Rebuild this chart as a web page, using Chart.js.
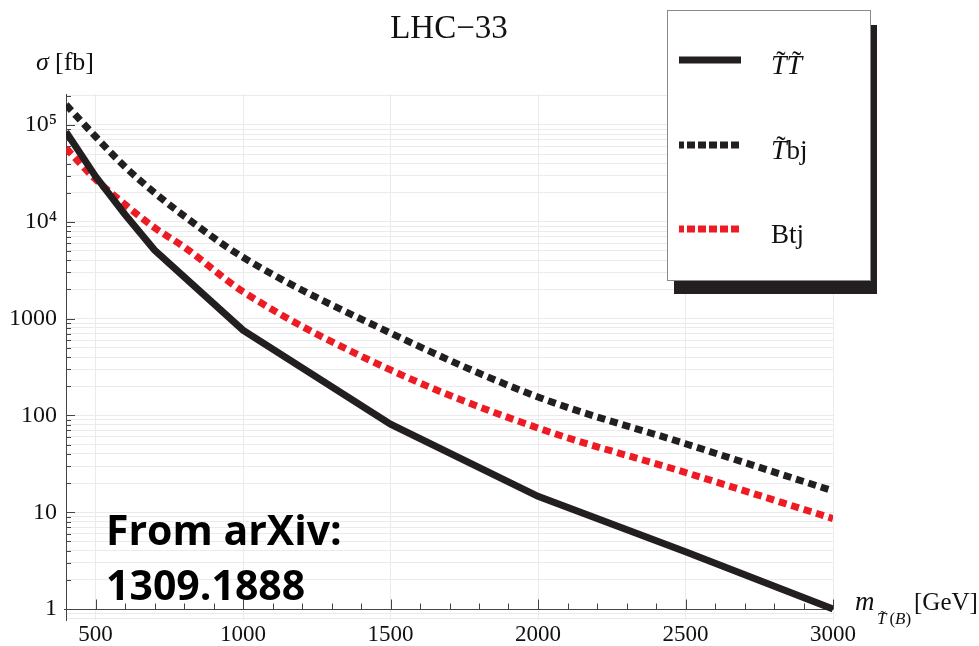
<!DOCTYPE html>
<html>
<head>
<meta charset="utf-8">
<script src="https://cdn.jsdelivr.net/npm/chart.js@4.4.0/dist/chart.umd.min.js"></script>
<style>
  html, body { margin: 0; padding: 0; background: #fff; }
  #wrap { width: 979px; height: 646px; }
</style>
</head>
<body>
<div id="wrap"><canvas id="xsecChart" width="979" height="646"></canvas></div>
<script>
// masses in GeV, cross sections in fb
const masses = [400, 500, 600, 700, 800, 1000, 1500, 2000, 2500, 3000];
const sigmaTT  = [85000, 29500, 11900, 5100, null, 760, 81, 14.6, 3.9, 1.0];
const sigmaTbj = [162000, 76000, 37000, 20000, 11500, 4300, 710, 155, 51, 16.6];
const sigmaBtj = [57500, 27500, 15100, 8700, 5500, 1900, 295, 74, 25.7, 8.6];

const xTicks = [500, 1000, 1500, 2000, 2500, 3000];
const yMajor = [1, 10, 100, 1000, 10000, 100000];
const yTickText = ['1', '10', '100', '1000', '10⁴', '10⁵'];

const serif = 'Liberation Serif';
const serifCss = '"Liberation Serif", serif';
const black = '#231f20';
const red = '#ed1c24';

function pts(arr) {
  return masses.map((m, i) => ({ x: m, y: arr[i] }));
}

function logTicks(min, max) {
  const out = [];
  for (let e = -1; e <= 5; e++) {
    for (let k = 1; k <= 9; k++) {
      const v = k * Math.pow(10, e);
      if (v >= min && v <= max) out.push({ value: v });
    }
  }
  return out;
}

// italic T with a tilde on top, returns advance
function tildeT(ctx, x, base, size) {
  ctx.font = 'italic ' + size + 'px ' + serifCss;
  ctx.fillText('T', x, base);
  const w = ctx.measureText('T').width;
  ctx.font = size + 'px ' + serifCss;
  ctx.textAlign = 'center';
  ctx.fillText('\u02dc', x + w * 0.64, base - size * 0.14);
  ctx.textAlign = 'left';
  return w;
}

// legend entries: label parts ('~T' = T with tilde)
const legendItems = [
  { parts: ['~T', '~T'], color: black, dash: [] },
  { parts: ['~T', 'bj'], color: black, dash: [8, 3] },
  { parts: ['Btj'], color: red, dash: [8, 3] }
];

const decor = {
  id: 'decor',
  beforeDatasetsDraw(chart) {
    const { ctx, scales: { x, y }, chartArea } = chart;
    const y1 = Math.round(y.getPixelForValue(1)) + 0.5;
    ctx.save();
    ctx.strokeStyle = '#444';
    ctx.lineWidth = 1;
    ctx.beginPath();
    ctx.moveTo(chartArea.left - 2, y1);
    ctx.lineTo(chartArea.right, y1);
    for (let m = 500; m <= 3000; m += 100) {
      const px = Math.round(x.getPixelForValue(m)) + 0.5;
      const len = m % 500 === 0 ? 10 : 6;
      ctx.moveTo(px, y1);
      ctx.lineTo(px, y1 - len);
    }
    y.ticks.forEach(t => {
      if (t.value < 1) return;
      const py = Math.round(y.getPixelForValue(t.value)) + 0.5;
      const len = yMajor.includes(t.value) ? 9 : 5;
      ctx.moveTo(chartArea.left, py);
      ctx.lineTo(chartArea.left + len, py);
    });
    ctx.stroke();
    ctx.restore();
  },
  afterDraw(chart) {
    const ctx = chart.ctx;
    ctx.save();
    ctx.fillStyle = '#111';
    ctx.textBaseline = 'alphabetic';

    // title
    ctx.font = '33px ' + serifCss;
    ctx.textAlign = 'center';
    ctx.fillText('LHC\u221233', 449, 38);

    // y axis title
    ctx.textAlign = 'left';
    ctx.font = 'italic 26px ' + serifCss;
    ctx.fillText('\u03c3', 36, 70);
    ctx.font = '26px ' + serifCss;
    ctx.fillText('[fb]', 55, 70);

    // x axis title
    ctx.font = 'italic 27px ' + serifCss;
    ctx.fillText('m', 855, 610);
    let sx = 877 + tildeT(ctx, 877, 624, 17) + 3;
    ctx.font = '17px ' + serifCss;
    ctx.fillText('(', sx, 624);
    sx += ctx.measureText('(').width;
    ctx.font = 'italic 17px ' + serifCss;
    ctx.fillText('B', sx, 624);
    sx += ctx.measureText('B').width;
    ctx.font = '17px ' + serifCss;
    ctx.fillText(')', sx, 624);
    ctx.font = '25px ' + serifCss;
    ctx.fillText('[GeV]', 914, 610);

    // legend box with shadow
    ctx.fillStyle = black;
    ctx.fillRect(674, 25, 203, 269);
    ctx.fillStyle = '#fff';
    ctx.fillRect(667, 10, 203, 270);
    ctx.strokeStyle = '#8a8a8a';
    ctx.lineWidth = 1;
    ctx.strokeRect(667.5, 10.5, 203, 270);

    const rowY = [60, 145, 229];
    legendItems.forEach((it, i) => {
      ctx.strokeStyle = it.color;
      ctx.lineWidth = 7;
      ctx.setLineDash(it.dash);
      ctx.lineDashOffset = it.dash.length ? 3 : 0;
      ctx.beginPath();
      ctx.moveTo(679, rowY[i]);
      ctx.lineTo(741, rowY[i]);
      ctx.stroke();
      ctx.setLineDash([]);
      let tx = 771;
      ctx.fillStyle = '#111';
      it.parts.forEach(p => {
        if (p === '~T') {
          tx += tildeT(ctx, tx, rowY[i] + 14, 28);
        } else {
          ctx.font = '27px ' + serifCss;
          ctx.fillText(p, tx, rowY[i] + 14);
          tx += ctx.measureText(p).width;
        }
      });
    });

    // source note
    ctx.fillStyle = '#000';
    ctx.font = 'bold 41px "Open Sans", sans-serif';
    ctx.fillText('From arXiv:', 106, 545);
    ctx.fillText('1309.1888', 106, 600);
    ctx.restore();
  }
};

const ctxX = document.getElementById('xsecChart').getContext('2d');
const xsecChart = new Chart(ctxX, {
  type: 'line',
  data: {
    datasets: [
      {
        label: 'TT',
        data: pts(sigmaTT),
        borderColor: black,
        borderWidth: 7,
        pointRadius: 0,
        spanGaps: true,
        tension: 0
      },
      {
        label: 'Tbj',
        data: pts(sigmaTbj),
        borderColor: black,
        borderWidth: 7,
        borderDash: [8, 5],
        borderCapStyle: 'butt',
        pointRadius: 0,
        cubicInterpolationMode: 'monotone'
      },
      {
        label: 'Btj',
        data: pts(sigmaBtj),
        borderColor: red,
        borderWidth: 7,
        borderDash: [8, 5],
        borderCapStyle: 'butt',
        pointRadius: 0,
        cubicInterpolationMode: 'monotone'
      }
    ]
  },
  options: {
    responsive: false,
    animation: false,
    layout: { padding: { left: 0, top: 94, right: 146, bottom: 0 } },
    plugins: {
      legend: { display: false },
      tooltip: { enabled: false }
    },
    scales: {
      x: {
        type: 'linear',
        min: 400,
        max: 3000,
        afterFit: s => { s.height = 26; },
        afterBuildTicks: s => { s.ticks = xTicks.map(v => ({ value: v })); },
        ticks: {
          autoSkip: false, maxRotation: 0, padding: 1, color: '#111',
          font: { family: serif, size: 23 },
          callback: v => String(v)
        },
        grid: { color: '#ebebeb', drawTicks: false },
        border: { display: false }
      },
      y: {
        type: 'logarithmic',
        min: 0.77,
        max: 209000,
        afterFit: s => { s.width = 66; },
        afterBuildTicks: s => { s.ticks = logTicks(s.min, s.max); },
        ticks: {
          autoSkip: false,
          padding: 9,
          color: '#111',
          font: { family: serif, size: 24 },
          callback: v => {
            const i = yMajor.indexOf(v);
            return i >= 0 ? yTickText[i] : '';
          }
        },
        grid: { color: '#ebebeb', drawTicks: false },
        border: { color: '#444', width: 1 }
      }
    }
  },
  plugins: [decor]
});
</script>
</body>
</html>
